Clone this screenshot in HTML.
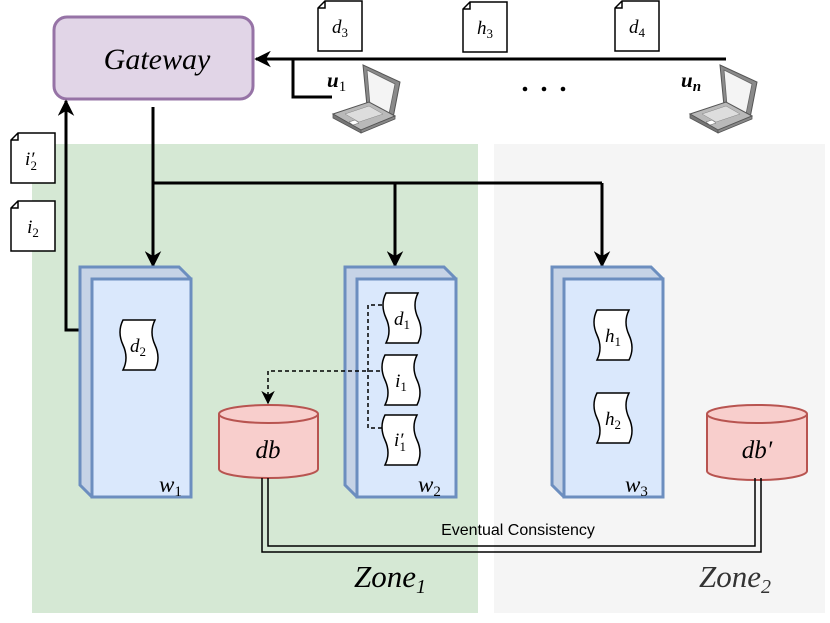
<!DOCTYPE html>
<html><head><style>
html,body{margin:0;padding:0;background:#fff}
svg{display:block}
.m{font-family:"Liberation Serif","DejaVu Serif",serif;font-style:italic}
</style></head><body>
<svg width="830" height="623" viewBox="0 0 830 623" xmlns="http://www.w3.org/2000/svg">
<defs>
<marker id="ah" viewBox="0 0 10 10" refX="9" refY="5" markerWidth="5.5" markerHeight="5.5" orient="auto"><path d="M0,0 L10,5 L0,10 L3,5 z" fill="#000"/></marker>
<marker id="ah2" viewBox="0 0 10 10" refX="9" refY="5" markerWidth="9" markerHeight="9" orient="auto"><path d="M0,0 L10,5 L0,10 L3,5 z" fill="#000"/></marker>
<g id="laptop">
<path d="M30,3 L67,20 L60,56 L34,44 Z" fill="#8a8a8a" stroke="#555" stroke-width="1"/>
<path d="M34,8 L62,22 L56,52 L37,43 Z" fill="#f4f4f4" stroke="#666" stroke-width="0.8"/>
<path d="M0,52 L36,40 L62,54 L28,68 Z" fill="#b9b9b9" stroke="#555" stroke-width="1"/>
<path d="M0,52 L28,68 L28,71 L0,56 Z" fill="#777" stroke="#555" stroke-width="0.8"/>
<path d="M28,68 L62,54 L62,57 L28,71 Z" fill="#888" stroke="#555" stroke-width="0.8"/>
<path d="M12,52 L36,44 L50,52 L26,60 Z" fill="#ddd" stroke="#888" stroke-width="0.5"/>
<path d="M16,60 L22,58 L26,61 L20,63 Z" fill="#fff" stroke="#666" stroke-width="0.5"/>
</g>
<g id="doc"><path d="M7,0 L44,0 L44,50 L0,50 L0,7 Z M0,7 L7,7 L7,0" fill="#fff" stroke="#000" stroke-width="1.5"/></g>
<g id="tape"><path d="M5,0 L37,0 Q31,12 37,25 Q43,38 37,50 L5,50 Q11,38 5,25 Q-1,12 5,0 Z" fill="#fff" stroke="#000" stroke-width="1.5"/></g>
</defs>
<rect x="32" y="144" width="446" height="469" fill="#d5e8d4"/>
<rect x="494" y="144" width="331" height="469" fill="#f5f5f5"/>
<rect x="54" y="17" width="199" height="82" rx="13" fill="#e1d5e7" stroke="#9673a6" stroke-width="3"/>
<text x="157" y="69" class="m" font-size="30" text-anchor="middle">Gateway</text>
<line x1="726" y1="59" x2="256" y2="59" stroke="#000" stroke-width="3" marker-end="url(#ah)"/>
<polyline points="293,59 293,97 332,97" fill="none" stroke="#000" stroke-width="3"/>
<use href="#doc" x="318" y="1"/><text x="340" y="33" class="m" font-size="19" text-anchor="middle">d<tspan font-size="13" dy="4" font-style="normal">3</tspan></text>
<use href="#doc" x="463" y="2"/><text x="485" y="34" class="m" font-size="19" text-anchor="middle">h<tspan font-size="13" dy="4" font-style="normal">3</tspan></text>
<use href="#doc" x="615" y="1"/><text x="637" y="33" class="m" font-size="19" text-anchor="middle">d<tspan font-size="13" dy="4" font-style="normal">4</tspan></text>
<text x="327" y="87" class="m" font-size="21" font-weight="bold">u<tspan font-size="15" dy="4" font-style="normal" font-weight="normal">1</tspan></text>
<use href="#laptop" x="333" y="62"/>
<text x="681" y="87" class="m" font-size="21" font-weight="bold">u<tspan font-size="15" dy="4">n</tspan></text>
<use href="#laptop" x="690" y="62"/>
<circle cx="525" cy="89" r="2.3"/><circle cx="544" cy="89" r="2.3"/><circle cx="563" cy="89" r="2.3"/>
<line x1="153" y1="107" x2="153" y2="266" stroke="#000" stroke-width="3" marker-end="url(#ah)"/>
<polyline points="153,183 602,183" fill="none" stroke="#000" stroke-width="3"/>
<line x1="395" y1="183" x2="395" y2="266" stroke="#000" stroke-width="3" marker-end="url(#ah)"/>
<line x1="602" y1="183" x2="602" y2="266" stroke="#000" stroke-width="3" marker-end="url(#ah)"/>
<polyline points="118,330 66,330 66,101" fill="none" stroke="#000" stroke-width="3" marker-end="url(#ah)"/>
<use href="#doc" x="11" y="133"/><text x="31" y="165" class="m" font-size="19" text-anchor="middle">i′<tspan font-size="13" dy="5" dx="-4" font-style="normal">2</tspan></text>
<use href="#doc" x="11" y="201"/><text x="33" y="233" class="m" font-size="19" text-anchor="middle">i<tspan font-size="13" dy="4" font-style="normal">2</tspan></text>
<g stroke="#6c8ebf" stroke-width="3">
<path d="M80,267 L179,267 L191,279 L191,497 L92,497 L80,485 Z" fill="#c6d3e6"/>
<rect x="92" y="279" width="99" height="218" fill="#dae8fc"/>
<path d="M345,267 L444,267 L456,279 L456,497 L357,497 L345,485 Z" fill="#c6d3e6"/>
<rect x="357" y="279" width="99" height="218" fill="#dae8fc"/>
<path d="M552,267 L651,267 L663,279 L663,497 L564,497 L552,485 Z" fill="#c6d3e6"/>
<rect x="564" y="279" width="99" height="218" fill="#dae8fc"/>
</g>
<text x="159" y="492" class="m" font-size="23">w<tspan font-size="15" dy="4" font-style="normal">1</tspan></text>
<text x="418" y="492" class="m" font-size="23">w<tspan font-size="15" dy="4" font-style="normal">2</tspan></text>
<text x="625" y="492" class="m" font-size="23">w<tspan font-size="15" dy="4" font-style="normal">3</tspan></text>
<use href="#tape" x="118" y="320"/><text x="138" y="352" class="m" font-size="19" text-anchor="middle">d<tspan font-size="13" dy="4" font-style="normal">2</tspan></text>
<polyline points="382,305 368,305 368,428 382,428" fill="none" stroke="#000" stroke-width="1.5" stroke-dasharray="4,3"/>
<polyline points="380,371 268,371 268,403" fill="none" stroke="#000" stroke-width="1.5" stroke-dasharray="4,3" marker-end="url(#ah2)"/>
<use href="#tape" x="381" y="293"/><text x="402" y="325" class="m" font-size="19" text-anchor="middle">d<tspan font-size="13" dy="4" font-style="normal">1</tspan></text>
<use href="#tape" x="380" y="355"/><text x="401" y="387" class="m" font-size="19" text-anchor="middle">i<tspan font-size="13" dy="4" font-style="normal">1</tspan></text>
<use href="#tape" x="380" y="415"/><text x="400" y="446" class="m" font-size="19" text-anchor="middle">i′<tspan font-size="13" dy="5" dx="-4" font-style="normal">1</tspan></text>
<use href="#tape" x="592" y="310"/><text x="613" y="342" class="m" font-size="19" text-anchor="middle">h<tspan font-size="13" dy="4" font-style="normal">1</tspan></text>
<use href="#tape" x="592" y="393"/><text x="613" y="425" class="m" font-size="19" text-anchor="middle">h<tspan font-size="13" dy="4" font-style="normal">2</tspan></text>
<g fill="#f8cecc" stroke="#b85450" stroke-width="2">
<path d="M219,414 L219,469 A49.5,9 0 0 0 318,469 L318,414"/>
<ellipse cx="268.5" cy="414" rx="49.5" ry="9"/>
<path d="M707,414 L707,471 A50,9 0 0 0 807,471 L807,414"/>
<ellipse cx="757" cy="414" rx="50" ry="9"/>
</g>
<text x="268" y="458" class="m" font-size="25" text-anchor="middle">db</text>
<text x="757" y="458" class="m" font-size="25" text-anchor="middle">db′</text>
<polyline points="262,478 262,552 761,552 761,478" fill="none" stroke="#000" stroke-width="1.5"/>
<polyline points="268,478 268,546 755,546 755,478" fill="none" stroke="#000" stroke-width="1.5"/>
<text x="518" y="535" font-family="Liberation Sans, sans-serif" font-size="16" text-anchor="middle">Eventual Consistency</text>
<text x="354" y="587" class="m" font-size="31">Zone<tspan font-size="20" dy="6">1</tspan></text>
<text x="699" y="587" class="m" font-size="31" fill="#333">Zone<tspan font-size="20" dy="6">2</tspan></text>
</svg>
</body></html>
